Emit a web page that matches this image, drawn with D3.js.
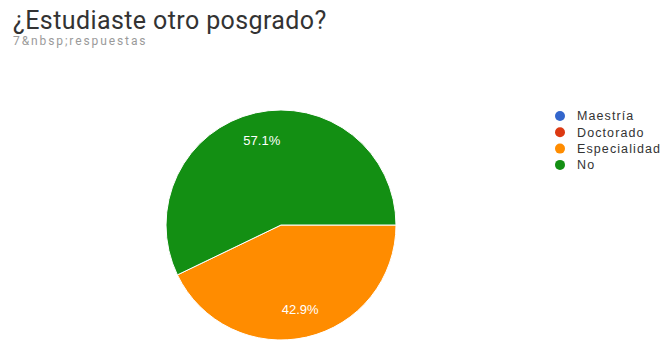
<!DOCTYPE html>
<html>
<head>
<meta charset="utf-8">
<script src="https://cdn.jsdelivr.net/npm/d3@7"></script>
<style>
  html, body { margin: 0; padding: 0; background: #ffffff; }
  svg { display: block; }
</style>
</head>
<body>
<svg id="chart" width="664" height="347"></svg>
<script>
// Survey answers: "¿Estudiaste otro posgrado?"
const categories = ["Maestría", "Doctorado", "Especialidad", "No"];
const counts = [0, 0, 3, 4];
const colors = ["#3366cc", "#dc3912", "#ff8c00", "#138f13"];
const titleText = "¿Estudiaste otro posgrado?";
const subtitleText = "7&nbsp;respuestas";

const svg = d3.select("#chart");

// Header
svg.append("text")
  .attr("x", 13).attr("y", 29)
  .attr("font-family", "Roboto, 'Noto Sans', Arial, sans-serif")
  .attr("font-size", 25)
  .attr("letter-spacing", 0.4)
  .attr("fill", "#333333")
  .text(titleText);

svg.append("text")
  .attr("x", 13).attr("y", 45)
  .attr("font-family", "Roboto, 'Noto Sans', Arial, sans-serif")
  .attr("font-size", 12)
  .attr("letter-spacing", 1.9)
  .attr("fill", "#9a9a9a")
  .text(subtitleText);

// Pie
const cx = 281, cy = 225, r = 115;
const total = d3.sum(counts);
const data = categories.map((c, i) => ({ name: c, value: counts[i], color: colors[i] }));

const pie = d3.pie()
  .sort(null)
  .value(d => d.value)
  .startAngle(Math.PI / 2)
  .endAngle(Math.PI / 2 + 2 * Math.PI);

const arcs = pie(data).filter(a => a.data.value > 0);
const arc = d3.arc().innerRadius(0).outerRadius(r);
const labelArc = d3.arc().innerRadius(r * 0.75).outerRadius(r * 0.75);

const g = svg.append("g").attr("transform", `translate(${cx},${cy})`);

g.selectAll("path.slice")
  .data(arcs)
  .join("path")
  .attr("class", "slice")
  .attr("d", arc)
  .attr("fill", d => d.data.color)
  .attr("stroke", "#ffffff")
  .attr("stroke-width", 1);

const pct = d3.format(".1%");
g.selectAll("text.pct")
  .data(arcs)
  .join("text")
  .attr("class", "pct")
  .attr("transform", d => `translate(${labelArc.centroid(d)})`)
  .attr("text-anchor", "middle")
  .attr("dy", "0.35em")
  .attr("font-family", "Arial, 'Liberation Sans', sans-serif")
  .attr("font-size", 13)
  .attr("fill", "#ffffff")
  .text(d => pct(d.data.value / total));

// Legend
const legend = svg.append("g").attr("transform", "translate(560,116)");
const rows = legend.selectAll("g.row")
  .data(data)
  .join("g")
  .attr("class", "row")
  .attr("transform", (d, i) => `translate(0,${i * 16.3})`);

rows.append("circle")
  .attr("r", 5)
  .attr("fill", d => d.color);

rows.append("text")
  .attr("x", 17)
  .attr("dy", "0.35em")
  .attr("font-family", "Arial, 'Liberation Sans', sans-serif")
  .attr("font-size", 12.5)
  .attr("letter-spacing", 1.1)
  .attr("fill", "#333333")
  .text(d => d.name);
</script>
</body>
</html>
